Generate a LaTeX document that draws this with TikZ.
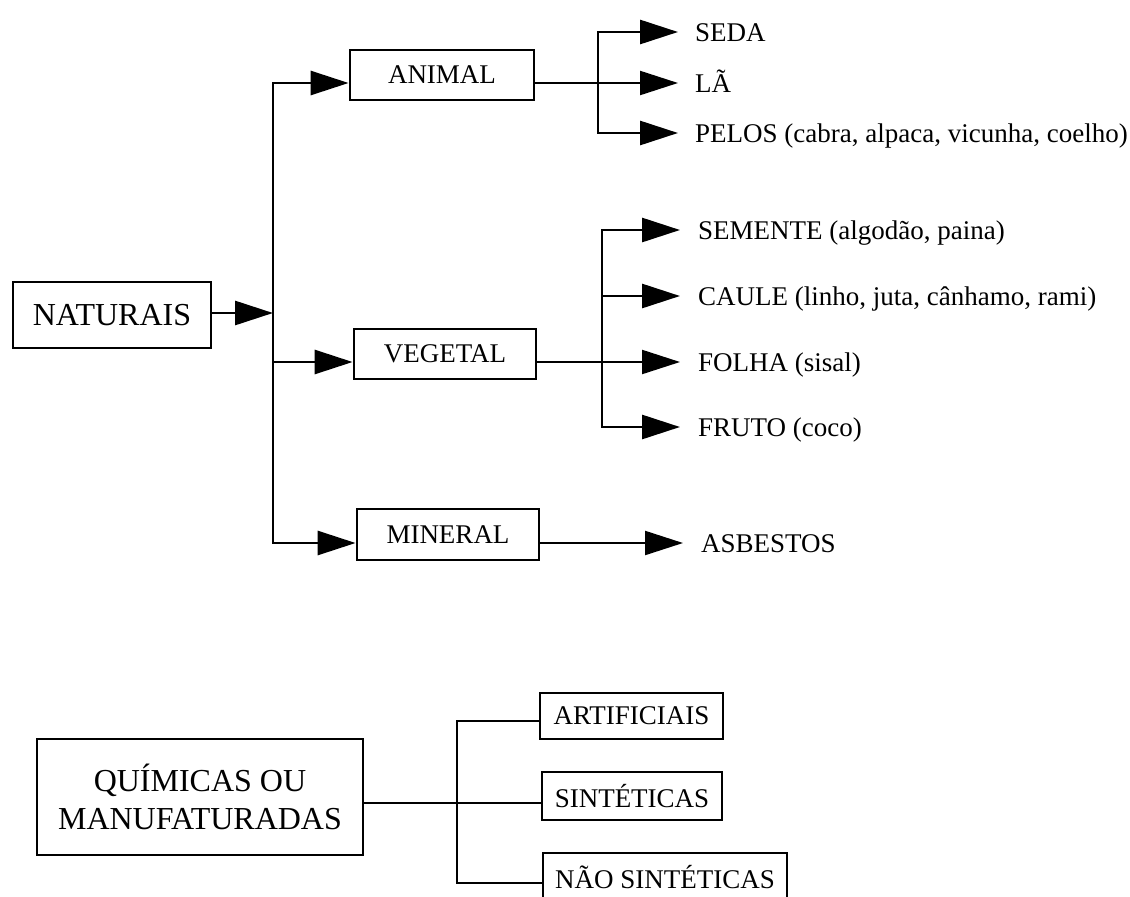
\documentclass[tikz,border=0pt]{standalone}
\usepackage{fontspec}
\setmainfont{Liberation Serif}
\usetikzlibrary{arrows.meta}
\begin{document}
\begin{tikzpicture}[x=1pt,y=-1pt,
  box/.style={draw, line width=2.8pt, inner sep=0pt, minimum height=50pt,
              font=\fontsize{27}{32}\selectfont},
  bigbox/.style={box, font=\fontsize{32}{38}\selectfont},
  leaf/.style={anchor=base west, inner xsep=17pt, inner ysep=0pt,
               font=\fontsize{27}{32}\selectfont},
  wire/.style={line width=2.8pt, line join=miter},
  thinwire/.style={line width=2.2pt},
  arr/.style={wire, -{Triangle[length=38pt,width=24pt]}},
  thinarr/.style={thinwire, -{Triangle[length=38pt,width=24pt]}},
]
\useasboundingbox (0,0) rectangle (1130,897);
\clip (0,0) rectangle (1130,897);

% ---- natural fibres ----
\node[bigbox, minimum width=198pt, minimum height=66pt] (nat) at (112,315) {NATURAIS};
\node[box, minimum width=184pt] (animal)  at (442,75)    {ANIMAL};
\node[box, minimum width=182pt] (vegetal) at (445,354)   {VEGETAL};
\node[box, minimum width=182pt, minimum height=51pt] (mineral) at (448,534.5) {MINERAL};

% trunk junctions
\coordinate (jn)   at (273,313);
\coordinate (ttop) at (273,83);
\coordinate (tveg) at (273,362);
\coordinate (tbot) at (273,543);

\draw[arr] (nat.east |- jn) -- (jn);
\draw[arr] (tbot) -- (ttop) -- (ttop -| animal.west);
\draw[arr] (ttop) -- (tbot) -- (tbot -| mineral.west);
\draw[arr] (tveg) -- (tveg -| vegetal.west);

% animal branch
\node[leaf] (seda)  at (678,41)  {SEDA};
\node[leaf] (la)    at (678,92)  {LÃ};
\node[leaf] (pelos) at (678,142) {PELOS (cabra, alpaca, vicunha, coelho)};
\coordinate (a1) at (598,32);
\coordinate (a2) at (598,83);
\coordinate (a3) at (598,133);
\draw[arr] (a3) -- (a1) -- (a1 -| seda.west);
\draw[arr] (a1) -- (a3) -- (a3 -| pelos.west);
\draw[thinarr] (a2 -| animal.east) -- (a2 -| la.west);

% vegetable branch
\node[leaf, inner xsep=18pt] (sem)   at (680,239) {SEMENTE (algodão, paina)};
\node[leaf, inner xsep=18pt] (caule) at (680,305) {CAULE (linho, juta, cânhamo, rami)};
\node[leaf, inner xsep=18pt] (folha) at (680,371) {FOLHA (sisal)};
\node[leaf, inner xsep=18pt] (fruto) at (680,436) {FRUTO (coco)};
\coordinate (v1) at (602,230);
\coordinate (v2) at (602,296);
\coordinate (v3) at (602,362);
\coordinate (v4) at (602,427);
\draw[arr] (v4) -- (v1) -- (v1 -| sem.west);
\draw[arr] (v1) -- (v4) -- (v4 -| fruto.west);
\draw[arr] (v2) -- (v2 -| caule.west);
\draw[thinarr] (v3 -| vegetal.east) -- (v3 -| folha.west);

% mineral branch
\node[leaf, inner xsep=18pt] (asb) at (683,552) {ASBESTOS};
\draw[thinarr] (tbot -| mineral.east) -- (tbot -| asb.west);

% ---- man-made fibres ----
\node[bigbox, minimum width=326pt, minimum height=116pt, align=center] (quim) at (200,797)
  {QUÍMICAS OU\\MANUFATURADAS};
\node[box, minimum width=183pt, minimum height=46pt] (artif) at (631.5,716) {ARTIFICIAIS};
\node[box, minimum width=180pt, minimum height=48pt] (sint)  at (632,796)   {SINTÉTICAS};
\node[box, minimum width=244pt, minimum height=48pt] (nao)   at (665,877)   {NÃO SINTÉTICAS};
\coordinate (q1) at (457,721);
\coordinate (q2) at (457,803);
\coordinate (q3) at (457,883);
\draw[thinwire] (q2 -| quim.east) -- (q2 -| sint.west);
\draw[wire] (q1 -| artif.west) -- (q1) -- (q3) -- (q3 -| nao.west);
\end{tikzpicture}
\end{document}
